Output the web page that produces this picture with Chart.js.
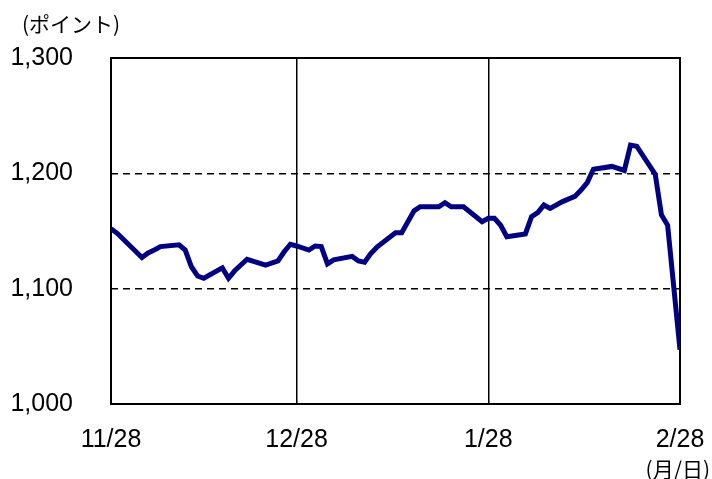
<!DOCTYPE html>
<html>
<head>
<meta charset="utf-8">
<script src="https://cdn.jsdelivr.net/npm/chart.js@4"></script>
<style>
  body { margin: 0; background: #fff; }
</style>
</head>
<body>
<canvas id="lineChart" width="712" height="479"></canvas>
<script>
// days counted from 11/28, index value
var days = [0, 1, 5, 6, 7, 8, 11, 12, 13, 14, 15, 18, 19, 20, 22, 25, 27, 28, 29, 30,
    32, 33, 34, 35, 36, 39, 40, 41, 42, 43, 46, 47, 49, 50, 53, 54, 55, 57, 60, 61,
    62, 63, 64, 67, 68, 69, 70, 71, 73, 75, 76, 77, 78, 81, 83, 84, 85, 88, 89, 90, 92];
var values = [1152, 1148, 1127, 1131, 1133.5, 1136.5, 1138, 1133.5, 1119, 1111, 1109, 1118, 1109, 1115.5, 1125.5, 1120.5, 1124, 1132, 1138.5, 1137,
    1133.5, 1137, 1136.5, 1121.5, 1125, 1128, 1124, 1123, 1130.5, 1136, 1148.5, 1148.5, 1167.5, 1171, 1171, 1174.5, 1171, 1171, 1158, 1161,
    1161, 1155, 1145, 1147.5, 1162.5, 1166, 1172.5, 1169.5, 1175.5, 1180, 1185.5, 1192, 1203.5, 1206, 1202.5, 1224.5, 1223.5, 1199, 1164, 1155, 1047];
var tickDays = [0, 30, 61, 92];
var tickLabels = ['11/28', '12/28', '1/28', '2/28'];
var yUnit = '(ポイント)';
var xUnit = '(月/日)';

var points = days.map(function (d, i) { return { x: d, y: values[i] }; });

var tickFont = { family: 'Liberation Sans', size: 25 };
var cjkFont = '21px "Noto Sans CJK JP"';

var frame = {
    id: 'frame',
    beforeDatasetsDraw: function (chart) {
        var a = chart.chartArea, c = chart.ctx;
        c.save();
        c.strokeStyle = '#000';
        c.lineWidth = 2;
        c.strokeRect(a.left, a.top, a.right - a.left, a.bottom - a.top);
        c.restore();
    },
    afterDraw: function (chart) {
        var c = chart.ctx;
        c.save();
        c.fillStyle = '#000';
        c.font = cjkFont;
        c.textBaseline = 'middle';
        c.textAlign = 'left';
        c.fillText(yUnit, 22, 24);
        c.textAlign = 'right';
        c.fillText(xUnit, 710, 469);
        c.restore();
    }
};

var ctx = document.getElementById('lineChart').getContext('2d');
var myChart = new Chart(ctx, {
    type: 'line',
    data: {
        datasets: [{
            data: points,
            borderColor: '#000080',
            borderWidth: 5,
            tension: 0,
            pointRadius: 0,
            fill: false
        }]
    },
    options: {
        responsive: false,
        animation: false,
        layout: { padding: { left: 0, top: 58, right: 32, bottom: 0 } },
        plugins: {
            legend: { display: false },
            tooltip: { enabled: false }
        },
        scales: {
            x: {
                type: 'linear',
                min: 0,
                max: 92,
                afterBuildTicks: function (scale) {
                    scale.ticks = tickDays.map(function (d) { return { value: d }; });
                },
                afterFit: function (scale) {
                    scale.height = 75;
                    scale.paddingLeft = 0;
                    scale.paddingRight = 0;
                },
                ticks: {
                    autoSkip: false,
                    maxRotation: 0,
                    padding: 21,
                    color: '#000',
                    font: tickFont,
                    callback: function (v) { return tickLabels[tickDays.indexOf(v)]; }
                },
                grid: { color: '#000', lineWidth: 1.5, drawTicks: false, tickLength: 0 },
                border: { display: false }
            },
            y: {
                min: 1000,
                max: 1300,
                afterFit: function (scale) {
                    scale.width = 111;
                    scale.paddingTop = 0;
                    scale.paddingBottom = 0;
                },
                ticks: {
                    stepSize: 100,
                    padding: 38,
                    color: '#000',
                    font: tickFont
                },
                grid: { color: '#000', lineWidth: 1.5, drawTicks: false, tickLength: 0 },
                border: { display: false, dash: [7, 5] }
            }
        }
    },
    plugins: [frame]
});
</script>
</body>
</html>
